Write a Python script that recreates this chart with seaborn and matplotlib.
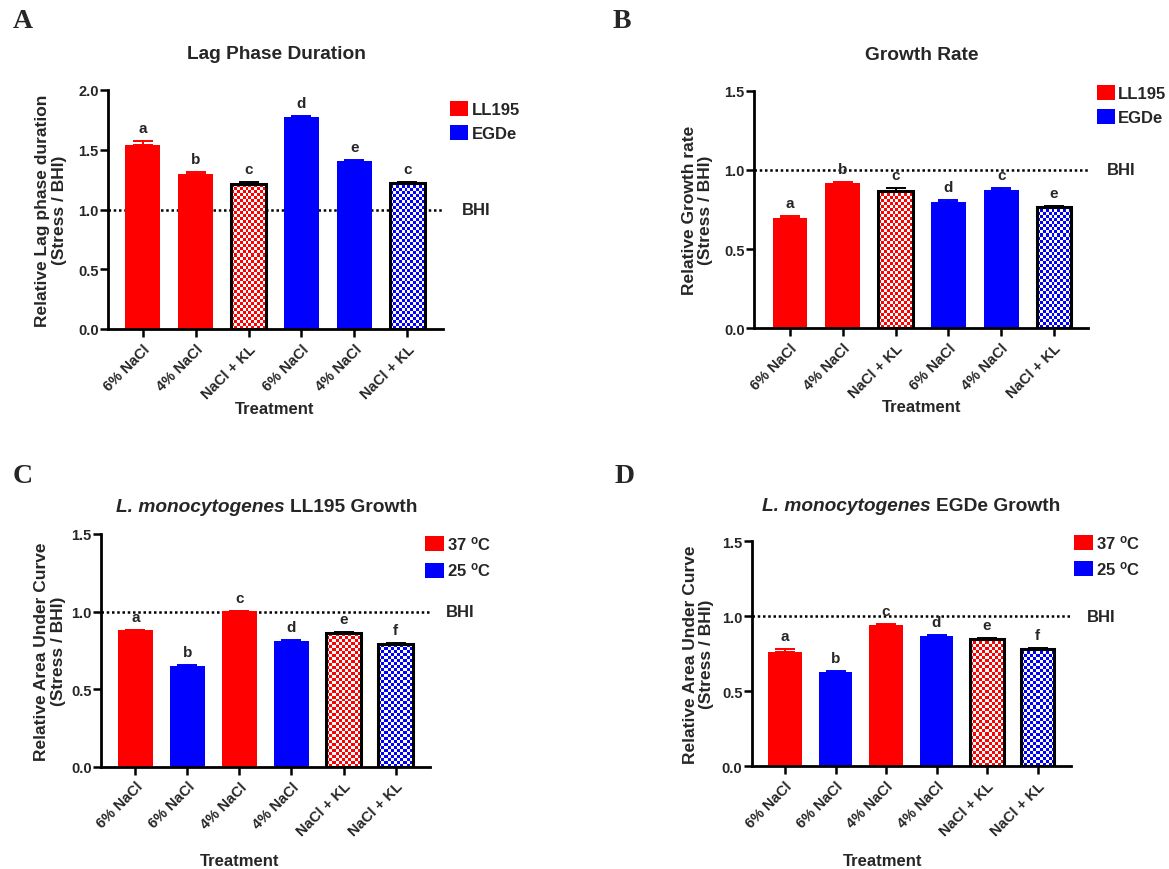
import numpy as np
import pandas as pd
import matplotlib
matplotlib.use("Agg")
import matplotlib.pyplot as plt
from matplotlib.colors import ListedColormap
from matplotlib.patches import Patch
import seaborn as sns

# ---------------- data ----------------
RED = "#FF0000"
BLUE = "#0000FF"

# Panel A - Lag phase duration
a_labels = ["6% NaCl", "4% NaCl", "NaCl + KL", "6% NaCl", "4% NaCl", "NaCl + KL"]
a_groups = ["LL195", "LL195", "LL195", "EGDe", "EGDe", "EGDe"]
a_values = [1.542, 1.297, 1.213, 1.777, 1.408, 1.222]
a_errors = [0.030, 0.020, 0.015, 0.005, 0.005, 0.010]
a_letters = ["a", "b", "c", "d", "e", "c"]
a_pattern = [False, False, True, False, False, True]

# Panel B - Growth rate
b_labels = ["6% NaCl", "4% NaCl", "NaCl + KL", "6% NaCl", "4% NaCl", "NaCl + KL"]
b_groups = ["LL195", "LL195", "LL195", "EGDe", "EGDe", "EGDe"]
b_values = [0.696, 0.918, 0.865, 0.800, 0.875, 0.764]
b_errors = [0.015, 0.007, 0.020, 0.012, 0.013, 0.010]
b_letters = ["a", "b", "c", "d", "c", "e"]
b_pattern = [False, False, True, False, False, True]

# Panel C - LL195 AUC
c_labels = ["6% NaCl", "6% NaCl", "4% NaCl", "4% NaCl", "NaCl + KL", "NaCl + KL"]
c_groups = ["37", "25", "37", "25", "37", "25"]
c_values = [0.878, 0.650, 1.002, 0.811, 0.863, 0.790]
c_errors = [0.005, 0.003, 0.003, 0.003, 0.005, 0.005]
c_letters = ["a", "b", "c", "d", "e", "f"]
c_pattern = [False, False, False, False, True, True]

# Panel D - EGDe AUC
d_labels = ["6% NaCl", "6% NaCl", "4% NaCl", "4% NaCl", "NaCl + KL", "NaCl + KL"]
d_groups = ["37", "25", "37", "25", "37", "25"]
d_values = [0.765, 0.629, 0.942, 0.869, 0.847, 0.785]
d_errors = [0.015, 0.004, 0.004, 0.004, 0.006, 0.005]
d_letters = ["a", "b", "c", "d", "e", "f"]
d_pattern = [False, False, False, False, True, True]

strain_palette = {"LL195": RED, "EGDe": BLUE}
temp_palette = {"37": RED, "25": BLUE}
temp_names = {"37": r"37 $^{\mathbf{o}}$C", "25": r"25 $^{\mathbf{o}}$C"}

# ---------------- style ----------------
sns.set_theme(style="ticks")
plt.rcParams["font.family"] = ["Liberation Sans", "DejaVu Sans"]
plt.rcParams["font.weight"] = "bold"
plt.rcParams["mathtext.fontset"] = "custom"
plt.rcParams["mathtext.rm"] = "Liberation Sans:bold"
plt.rcParams["mathtext.bf"] = "Liberation Sans:bold"
plt.rcParams["mathtext.it"] = "Liberation Sans:italic:bold"

fig = plt.figure(figsize=(11.69, 8.70), dpi=100)
W, H = 1169.0, 870.0
TITLE_SIZE = 13.8


def make_ax(left, right, top, bottom):
    return fig.add_axes([left / W, 1 - bottom / H, (right - left) / W, (bottom - top) / H])


def checker(ax, patch, color):
    x0, y0 = patch.get_x(), patch.get_y()
    w, h = patch.get_width(), patch.get_height()
    (px0, py0), (px1, py1) = ax.transData.transform([(x0, y0), (x0 + w, y0 + h)])
    nx = max(1, int(round(abs(px1 - px0) / 3.0)))
    ny = max(1, int(round(abs(py1 - py0) / 3.0)))
    grid = np.add.outer(np.arange(ny), np.arange(nx)) % 2
    im = ax.imshow(grid, cmap=ListedColormap(["white", color]), vmin=0, vmax=1,
                   extent=(x0, x0 + w, y0, y0 + h), origin="lower",
                   interpolation="nearest", aspect="auto", zorder=2.5)
    im.set_clip_path(patch)


def rich_title(ax, parts, xc, y):
    """parts: list of (text, fontstyle); drawn side by side, centred at xc."""
    renderer = fig.canvas.get_renderer()
    axw = ax.bbox.width
    gap = TITLE_SIZE * fig.dpi / 72.0 * 0.278
    texts, widths = [], []
    for s, style in parts:
        t = ax.text(0, y, s, transform=ax.transAxes, ha="left", va="center",
                    fontsize=TITLE_SIZE, fontweight="bold", fontstyle=style)
        texts.append(t)
        widths.append(t.get_window_extent(renderer).width)
    total = sum(widths) + gap * (len(parts) - 1)
    x = xc - total / 2.0 / axw
    for t, w in zip(texts, widths):
        t.set_x(x)
        x += (w + gap) / axw


def panel(ax, labels, groups, values, errors, letters, pattern, palette,
          xlim, ylim, yticks, ylabel, title, title_xy, ylab_x, xlab_xy,
          legend_labels, legend_xy, bhi_x):
    df = pd.DataFrame({"pos": np.arange(len(values)), "value": values, "group": groups})
    sns.barplot(data=df, x="pos", y="value", hue="group", palette=palette,
                dodge=False, width=0.66, saturation=1, errorbar=None,
                legend=False, ax=ax, zorder=2)
    ax.set_xlim(*xlim)
    ax.set_ylim(*ylim)
    ax.axhline(1.0, color="black", lw=1.8, ls=(0, (1, 1.1)), zorder=1)

    bars = {}
    for p in ax.patches:
        if p.get_height() > 0:
            bars[int(round(p.get_x() + p.get_width() / 2))] = p
    for i, p in bars.items():
        col = palette[groups[i]]
        if pattern[i]:
            p.set_facecolor("none")
            p.set_edgecolor("black")
            p.set_linewidth(2.2)
            p.set_zorder(3)
            checker(ax, p, col)
            ecol = "black"
        else:
            p.set_linewidth(0)
            ecol = col
        ax.errorbar(i, values[i], yerr=[[0], [errors[i]]], fmt="none", ecolor=ecol,
                    elinewidth=1.4, capsize=7, capthick=1.4, zorder=4)
        ax.annotate(letters[i], (i, values[i] + errors[i]), xytext=(0, 6.5),
                    textcoords="offset points", ha="center", va="baseline",
                    fontsize=11, fontweight="bold")

    ax.set_xlim(*xlim)
    ax.set_ylim(*ylim)
    sns.despine(ax=ax)
    for s in ("left", "bottom"):
        ax.spines[s].set_linewidth(2.0)
        ax.spines[s].set_color("black")
    ax.set_xticks(np.arange(len(labels)))
    ax.set_xticklabels(labels, rotation=45, ha="right", va="top",
                       rotation_mode="anchor", fontsize=10.5, fontweight="bold")
    ax.set_yticks(yticks)
    ax.set_yticklabels([f"{t:.1f}" for t in yticks], fontsize=10.5, fontweight="bold")
    ax.tick_params(axis="both", length=5.5, width=1.8, color="black")
    ax.tick_params(axis="y", pad=1.5)
    ax.tick_params(axis="x", pad=3.5)

    ax.set_ylabel(ylabel, fontsize=12.5, fontweight="bold", va="center", linespacing=1.1)
    ax.yaxis.set_label_coords(ylab_x, 0.5)
    ax.set_xlabel("Treatment", fontsize=12, fontweight="bold", va="center")
    ax.xaxis.set_label_coords(*xlab_xy)

    rich_title(ax, title, title_xy[0], title_xy[1])
    ax.text(bhi_x, 1.0, "BHI", transform=ax.get_yaxis_transform(), ha="left",
            va="center", fontsize=12, fontweight="bold")

    handles = [Patch(facecolor=palette[k], edgecolor="none") for k in legend_labels]
    names = [temp_names.get(k, k) for k in legend_labels]
    ax.legend(handles, names, loc="upper left", bbox_to_anchor=legend_xy,
              frameon=False, borderpad=0, borderaxespad=0, handlelength=1.1,
              handleheight=1.0, handletextpad=0.2, labelspacing=0.5,
              prop={"weight": "bold", "size": 12})


# Panel A
axA = make_ax(108.3, 443, 91, 330)
panel(axA, a_labels, a_groups, a_values, a_errors, a_letters, a_pattern, strain_palette,
      (-0.65, 5.675), (0, 2.0), [0, 0.5, 1.0, 1.5, 2.0],
      "Relative Lag phase duration\n(Stress / BHI)",
      [("Lag Phase Duration", "normal")], (0.501, 1.151),
      -0.171, (0.498, -0.331), ["LL195", "EGDe"], (1.021, 0.955), 1.057)

# Panel B
axB = make_ax(754.3, 1088.3, 91.7, 329.3)
panel(axB, b_labels, b_groups, b_values, b_errors, b_letters, b_pattern, strain_palette,
      (-0.676, 5.65), (0, 1.5), [0, 0.5, 1.0, 1.5],
      "Relative Growth rate\n(Stress / BHI)",
      [("Growth Rate", "normal")], (0.501, 1.154),
      -0.169, (0.502, -0.331), ["LL195", "EGDe"], (1.025, 1.025), 1.055)

# Panel C
axC = make_ax(101.4, 430.4, 535, 767.7)
panel(axC, c_labels, c_groups, c_values, c_errors, c_letters, c_pattern, temp_palette,
      (-0.654, 5.67), (0, 1.5), [0, 0.5, 1.0, 1.5],
      "Relative Area Under Curve\n(Stress / BHI)",
      [("L. monocytogenes", "italic"), ("LL195 Growth", "normal")], (0.502, 1.12),
      -0.156, (0.421, -0.404), ["37", "25"], (0.985, 0.998), 1.046)

# Panel D
axD = make_ax(752.2, 1071.4, 542.3, 767.3)
panel(axD, d_labels, d_groups, d_values, d_errors, d_letters, d_pattern, temp_palette,
      (-0.65, 5.67), (0, 1.5), [0, 0.5, 1.0, 1.5],
      "Relative Area Under Curve\n(Stress / BHI)",
      [("L. monocytogenes", "italic"), ("EGDe Growth", "normal")], (0.497, 1.158),
      -0.167, (0.41, -0.42), ["37", "25"], (1.009, 1.037), 1.047)

# Panel letters
for letter, (px, py) in {"A": (23, 22), "B": (622, 22), "C": (23, 477), "D": (625, 477)}.items():
    fig.text(px / W, 1 - py / H, letter, ha="center", va="center", fontsize=20,
             fontweight="bold", family=["Liberation Serif", "DejaVu Serif"])

fig.savefig("out.png", dpi=100, facecolor="white")
